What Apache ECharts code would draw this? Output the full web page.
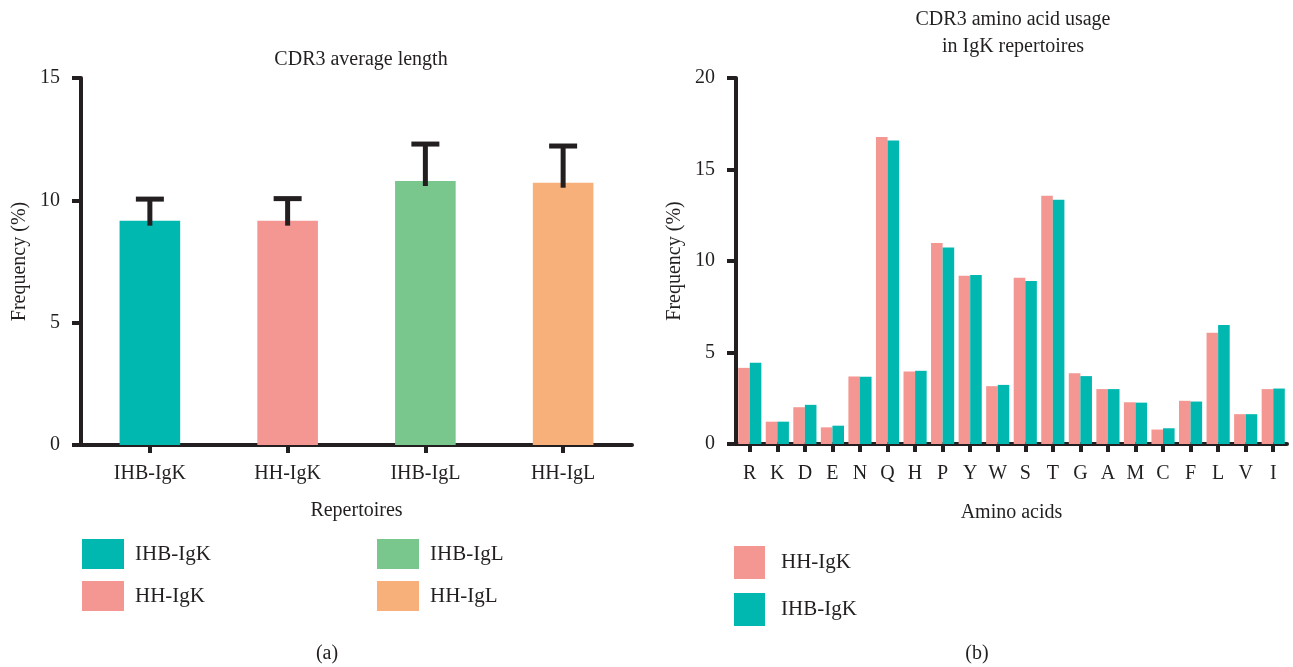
<!DOCTYPE html>
<html>
<head>
<meta charset="utf-8">
<script src="https://cdn.jsdelivr.net/npm/echarts@6/dist/echarts.min.js"></script>
<style>html,body{margin:0;padding:0;background:#fff;}#c{width:1293px;height:667px;}</style>
</head>
<body>
<div id="c"></div>
<script>
// ---- data: panel (a)
const repertoires = ['IHB-IgK', 'HH-IgK', 'IHB-IgL', 'HH-IgL'];
const avgLength = [9.17, 9.17, 10.79, 10.72];
const avgLengthErrTop = [10.05, 10.07, 12.3, 12.22];
const lengthTicks = [0, 5, 10, 15];

// ---- data: panel (b)
const aminoAcids = ['R','K','D','E','N','Q','H','P','Y','W','S','T','G','A','M','C','F','L','V','I'];
const hhIgK  = [4.16, 1.22, 2.01, 0.91, 3.69, 16.77, 3.96, 10.98, 9.2, 3.16, 9.08, 13.57, 3.87, 3.0, 2.28, 0.79, 2.36, 6.08, 1.63, 3.0];
const ihbIgK = [4.44, 1.22, 2.14, 1.0, 3.67, 16.58, 4.0, 10.74, 9.24, 3.23, 8.91, 13.35, 3.71, 3.0, 2.26, 0.86, 2.32, 6.5, 1.63, 3.03];
const usageTicks = [0, 5, 10, 15, 20];

const colors = {'IHB-IgK':'#00B8B0','HH-IgK':'#F49692','IHB-IgL':'#79C78D','HH-IgL':'#F8B07A'};
const ink = '#231F20';
const font = '"Liberation Serif", "DejaVu Serif", serif';
const fs = 20;

const axisLine = {show:true, lineStyle:{color:ink, width:4}};
const axisTickY = {show:true, length:9, lineStyle:{color:ink, width:4}};
const axisTickX = {show:true, alignWithLabel:true, length:8, lineStyle:{color:ink, width:4}};
const lbl = {color:ink, fontFamily:font, fontSize:fs};
const nameStyle = {color:ink, fontFamily:font, fontSize:fs};

// bar series for panel (a): one series per repertoire, overlapping slot
const seriesA = repertoires.map((name, i) => ({
  name, type:'bar', xAxisIndex:0, yAxisIndex:0,
  barWidth:'44%', barGap:'-100%',
  itemStyle:{color:colors[name]},
  data: repertoires.map((_, j) => j === i ? avgLength[i] : '-')
}));

const errSeries = {
  type:'custom', xAxisIndex:0, yAxisIndex:0, z:5,
  data: repertoires.map((_, i) => [i, avgLengthErrTop[i], avgLength[i]]),
  encode:{x:0, y:1},
  renderItem(params, api){
    const x = api.value(0), top = api.value(1), base = api.value(2);
    const p1 = api.coord([x, base]);
    const p2 = api.coord([x, top]);
    const st = {stroke:ink, lineWidth:5};
    return {type:'group', children:[
      {type:'line', shape:{x1:p1[0], y1:p1[1]+5, x2:p2[0], y2:p2[1]}, style:st},
      {type:'line', shape:{x1:p2[0]-14, y1:p2[1], x2:p2[0]+14, y2:p2[1]}, style:st}
    ]};
  }
};

const seriesB = [
  {name:'HH-IgK', type:'bar', xAxisIndex:1, yAxisIndex:1, barWidth:'42%', barGap:'0%', itemStyle:{color:colors['HH-IgK']}, data:hhIgK},
  {name:'IHB-IgK', type:'bar', xAxisIndex:1, yAxisIndex:1, barWidth:'42%', barGap:'0%', itemStyle:{color:colors['IHB-IgK']}, data:ihbIgK}
];

const legendTextA = {color:ink, fontFamily:font, fontSize:21, padding:[0,0,0,6]};
const legendTextB = {color:ink, fontFamily:font, fontSize:21, padding:[0,0,0,11]};
const titleStyle = {color:ink, fontFamily:font, fontSize:fs, fontWeight:'normal'};

const option = {
  animation:false,
  backgroundColor:'#fff',
  title:[
    {text:'CDR3 average length', left:356, top:45, textAlign:'center', textStyle:titleStyle},
    {text:'CDR3 amino acid usage\nin IgK repertoires', left:1008, top:1, textAlign:'center', textStyle:{...titleStyle, lineHeight:27}},
    {text:'(a)', left:322, top:639, textAlign:'center', textStyle:titleStyle},
    {text:'(b)', left:972, top:639, textAlign:'center', textStyle:titleStyle}
  ],
  legend:[
    {data:['IHB-IgK','HH-IgK'], orient:'vertical', left:77, top:534, itemWidth:42, itemHeight:30, itemGap:12, icon:'rect', selectedMode:false, textStyle:legendTextA},
    {data:['IHB-IgL','HH-IgL'], orient:'vertical', left:372, top:534, itemWidth:42, itemHeight:30, itemGap:12, icon:'rect', selectedMode:false, textStyle:legendTextA},
    {data:['HH-IgK','IHB-IgK'], orient:'vertical', left:729, top:541, itemWidth:31, itemHeight:33, itemGap:14, icon:'rect', selectedMode:false, textStyle:legendTextB}
  ],
  grid:[
    {left:81, right:1293-632, top:78, bottom:667-445, containLabel:false},
    {left:736, right:6, top:78, bottom:667-444, containLabel:false}
  ],
  xAxis:[
    {type:'category', gridIndex:0, data:repertoires, axisLine, axisTick:axisTickX,
     axisLabel:{...lbl, margin:19}, name:'Repertoires', nameLocation:'middle', nameGap:56,
     nameTextStyle:nameStyle, splitLine:{show:false}},
    {type:'category', gridIndex:1, data:aminoAcids, axisLine, axisTick:axisTickX,
     axisLabel:{...lbl, margin:20, interval:0}, name:'Amino acids', nameLocation:'middle', nameGap:59,
     nameTextStyle:nameStyle, splitLine:{show:false}}
  ],
  yAxis:[
    {type:'value', gridIndex:0, min:lengthTicks[0], max:lengthTicks[lengthTicks.length-1], interval:lengthTicks[1]-lengthTicks[0],
     axisLine, axisTick:axisTickY, axisLabel:{...lbl, margin:21}, splitLine:{show:false},
     name:'Frequency (%)', nameLocation:'middle', nameRotate:90, nameGap:51,
     nameTextStyle:nameStyle},
    {type:'value', gridIndex:1, min:usageTicks[0], max:usageTicks[usageTicks.length-1], interval:usageTicks[1]-usageTicks[0],
     axisLine, axisTick:axisTickY, axisLabel:{...lbl, margin:21}, splitLine:{show:false},
     name:'Frequency (%)', nameLocation:'middle', nameRotate:90, nameGap:51,
     nameTextStyle:nameStyle}
  ],
  series:[...seriesA, errSeries, ...seriesB]
};

const chart = echarts.init(document.getElementById('c'), null, {renderer:'canvas'});
chart.setOption(option);
</script>
</body>
</html>
